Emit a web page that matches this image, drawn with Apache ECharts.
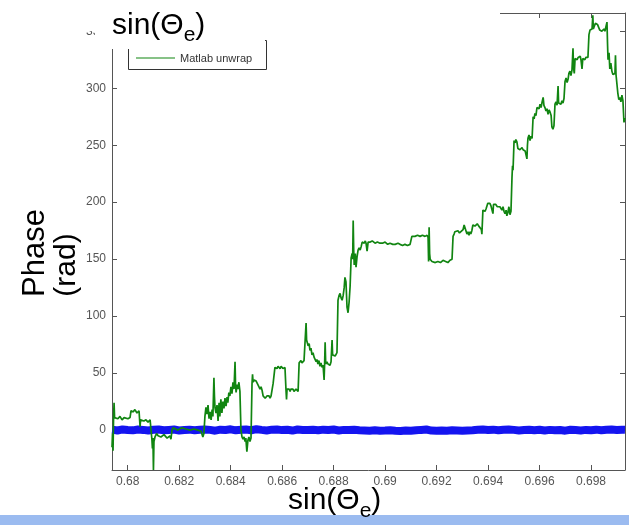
<!DOCTYPE html>
<html>
<head>
<meta charset="utf-8">
<script src="https://cdn.jsdelivr.net/npm/echarts@6/dist/echarts.min.js"></script>
<style>
html,body{margin:0;padding:0;background:#fff;}
#chart{width:629px;height:525px;}
</style>
</head>
<body>
<div id="chart"></div>
<script>
// ---- data ----
const xTickValues = [0.68, 0.682, 0.684, 0.686, 0.688, 0.69, 0.692, 0.694, 0.696, 0.698];
const yTickValues = [0, 50, 100, 150, 200, 250, 300, 350];
const legendNames = ['Matlab unwrap'];

// green: Matlab unwrap phase [sin(theta_e), phase]
const unwrapPoints = [
[0.67939,-15],[0.67941,-3],[0.67943,-18],[0.67945,10],[0.67947,24],[0.67949,11],[0.67955,12],[0.67962,10],[0.67970,12],[0.67978,9],[0.67986,11],[0.67993,12],[0.68001,10],[0.68009,11],[0.68013,12],[0.68013,17],[0.68021,16],[0.68028,18],[0.68036,15],[0.68044,17],[0.68048,16],[0.68048,3],[0.68050,9],[0.68056,10],[0.68063,8],[0.68071,9],[0.68079,7],[0.68087,9],[0.68092,8],[0.68094,-8],[0.68096,-16],[0.68098,-7],[0.68100,-35],[0.68102,-10],[0.68106,-6],[0.68112,-3],[0.68118,-5],[0.68129,-6],[0.68141,-4],[0.68153,-7],[0.68164,-5],[0.68168,-8],[0.68172,0],[0.68176,2],[0.68180,1],[0.68195,0],[0.68211,2],[0.68226,1],[0.68242,0],[0.68257,1],[0.68273,0],[0.68285,-1],[0.68292,-6],[0.68296,-3],
[0.68300,12],[0.68304,20],[0.68308,14],[0.68312,22],[0.68316,10],[0.68320,16],[0.68324,9],[0.68328,18],[0.68331,12],[0.68335,46],[0.68337,30],[0.68339,20],[0.68343,15],[0.68347,22],[0.68351,8],[0.68355,24],[0.68358,12],[0.68362,27],[0.68366,15],[0.68370,25],[0.68374,19],[0.68378,28],[0.68382,21],[0.68386,29],[0.68389,24],[0.68393,33],[0.68397,30],[0.68401,38],[0.68405,32],[0.68409,42],[0.68413,36],[0.68417,60],[0.68419,40],[0.68421,33],[0.68425,40],[0.68428,36],[0.68432,42],[0.68436,34],
[0.68440,0],[0.68444,-6],[0.68448,-8],[0.68452,-6],[0.68456,-10],[0.68459,-7],[0.68463,-19],[0.68467,-9],[0.68471,-6],[0.68475,-10],[0.68479,-7],[0.68483,41],[0.68485,49],[0.68487,42],[0.68491,44],[0.68495,45],[0.68499,43],[0.68502,44],[0.68506,42],[0.68510,38],[0.68514,36],[0.68518,38],[0.68522,35],[0.68526,30],[0.68530,29],[0.68534,28],[0.68538,29],[0.68541,30],[0.68545,29],[0.68549,30],[0.68553,28],[0.68557,30],[0.68561,29],[0.68565,41],[0.68568,42],[0.68572,55],[0.68576,56],[0.68580,54],[0.68584,56],[0.68588,55],[0.68592,54],[0.68596,56],[0.68600,55],[0.68603,54],[0.68607,55],[0.68611,55],[0.68615,35],[0.68617,27],[0.68619,36],[0.68623,35],[0.68627,36],[0.68631,34],[0.68634,36],[0.68638,35],[0.68642,36],[0.68646,34],[0.68650,35],[0.68654,36],[0.68658,35],[0.68662,34],[0.68666,59],[0.68669,60],[0.68673,61],[0.68677,59],[0.68681,60],[0.68685,61],[0.68689,60],
[0.68693,94],[0.68695,79],[0.68697,78],[0.68701,74],[0.68705,76],[0.68708,70],[0.68712,72],[0.68716,66],[0.68720,68],[0.68724,64],[0.68728,62],[0.68732,60],[0.68735,62],[0.68739,58],[0.68743,61],[0.68747,56],[0.68751,59],[0.68755,55],[0.68759,57],[0.68763,44],[0.68765,58],[0.68767,77],[0.68769,60],[0.68771,58],[0.68774,60],[0.68778,58],[0.68782,59],[0.68786,57],[0.68790,60],[0.68794,79],[0.68796,66],[0.68798,65],[0.68802,67],[0.68806,65],[0.68810,66],[0.68813,68],
[0.68817,114],[0.68821,118],[0.68825,120],[0.68829,116],[0.68833,114],[0.68837,118],[0.68841,125],[0.68844,134],[0.68848,130],[0.68852,108],[0.68856,103],[0.68860,112],[0.68864,126],[0.68868,151],[0.68872,155],[0.68874,150],[0.68876,184],[0.68878,158],[0.68880,145],[0.68884,155],[0.68887,143],[0.68891,152],[0.68895,158],[0.68899,160],[0.68903,158],[0.68907,161],[0.68911,165],[0.68915,165],[0.68919,164],[0.68923,166],[0.68926,164],[0.68930,157],[0.68934,165],[0.68942,165],[0.68950,166],[0.68961,164],[0.68970,165],[0.68980,164],[0.68990,164],[0.69000,165],[0.69010,163],[0.69019,164],[0.69030,163],[0.69039,163],[0.69050,164],[0.69058,163],[0.69068,162],[0.69077,163],[0.69087,162],[0.69097,163],[0.69102,162],
[0.69104,170],[0.69110,171],[0.69116,170],[0.69126,171],[0.69136,170],[0.69145,171],[0.69155,170],[0.69163,171],[0.69167,169],[0.69169,148],[0.69171,178],[0.69173,155],[0.69175,150],[0.69178,149],[0.69182,148],[0.69186,149],[0.69195,147],[0.69205,148],[0.69215,147],[0.69225,149],[0.69235,148],[0.69244,147],[0.69252,149],[0.69260,150],
[0.69264,170],[0.69268,172],[0.69271,174],[0.69277,173],[0.69283,175],[0.69289,173],[0.69295,174],[0.69303,176],[0.69307,180],[0.69310,181],[0.69314,179],[0.69318,172],[0.69322,174],[0.69326,171],[0.69330,174],[0.69333,172],[0.69337,175],[0.69341,180],[0.69345,181],[0.69349,179],[0.69353,180],[0.69358,181],[0.69364,179],[0.69370,180],[0.69374,176],[0.69376,172],[0.69380,193],[0.69384,194],[0.69388,192],[0.69392,194],[0.69396,193],[0.69399,199],[0.69403,198],[0.69407,199],[0.69411,197],[0.69415,198],[0.69419,190],[0.69421,198],[0.69425,197],[0.69430,198],[0.69436,196],[0.69441,197],[0.69446,196],[0.69450,197],[0.69454,193],[0.69458,196],[0.69462,192],[0.69466,190],[0.69470,193],[0.69473,188],[0.69477,191],[0.69481,196],[0.69485,189],[0.69489,192],
[0.69493,222],[0.69495,232],[0.69497,228],[0.69501,254],[0.69505,252],[0.69508,255],[0.69512,253],[0.69516,247],[0.69520,248],[0.69524,246],[0.69528,247],[0.69532,248],[0.69536,246],[0.69540,247],[0.69544,245],[0.69548,246],[0.69551,238],[0.69553,250],[0.69555,256],[0.69559,259],[0.69563,254],[0.69567,258],[0.69571,256],[0.69575,275],[0.69579,273],[0.69582,278],[0.69586,276],[0.69590,283],
[0.69594,284],[0.69598,282],[0.69602,286],[0.69606,283],[0.69610,288],[0.69614,292],[0.69617,285],[0.69621,283],[0.69625,280],[0.69629,282],[0.69633,277],[0.69637,281],[0.69641,279],[0.69645,276],[0.69648,266],[0.69652,264],[0.69656,267],[0.69660,286],[0.69664,288],[0.69668,285],[0.69672,302],[0.69674,287],[0.69678,288],[0.69683,286],[0.69687,289],[0.69691,287],[0.69695,291],[0.69699,306],[0.69703,309],[0.69707,305],[0.69711,308],[0.69714,313],[0.69718,315],[0.69722,311],[0.69726,316],[0.69730,335],[0.69732,318],[0.69735,313],[0.69738,326],[0.69742,327],[0.69746,325],[0.69750,327],[0.69754,326],[0.69758,328],[0.69761,325],[0.69765,317],[0.69768,326],[0.69772,327],[0.69776,325],[0.69780,327],[0.69784,326],[0.69788,327],
[0.69792,347],[0.69796,351],[0.69800,350],[0.69804,352],[0.69807,364],[0.69809,352],[0.69813,351],[0.69817,357],[0.69821,358],[0.69825,356],[0.69829,357],[0.69834,351],[0.69838,352],[0.69842,350],[0.69846,351],[0.69850,352],[0.69854,350],[0.69858,351],[0.69862,358],[0.69864,340],[0.69866,325],[0.69870,331],[0.69873,317],[0.69877,322],[0.69881,315],[0.69885,312],[0.69889,311],[0.69893,313],[0.69895,329],[0.69897,312],[0.69900,311],[0.69904,296],[0.69908,290],[0.69912,292],[0.69916,288],[0.69920,294],[0.69924,289],[0.69928,270],[0.69932,274]
];

// blue: the other phase estimate, a band around zero
const bandX = [
0.6794,0.6796,0.6798,0.6800,0.6802,0.6804,0.6806,0.6808,0.6810,0.6812,0.6814,0.6816,0.6818,0.6820,0.6822,0.6824,0.6826,0.6828,0.6830,
0.6832,0.6834,0.6836,0.6838,0.6840,0.6842,0.6844,0.6846,0.6848,0.6850,0.6852,0.6854,0.6856,0.6858,0.6860,0.6862,0.6864,0.6866,0.6868,0.6870,
0.6872,0.6874,0.6876,0.6878,0.6880,0.6882,0.6884,0.6886,0.6888,0.6890,
0.6892,0.6894,0.6896,0.6898,0.6900,0.6902,0.6904,0.6906,0.6908,0.6910,0.6912,0.6914,0.6916,0.6918,0.6920,0.6922,0.6924,0.6926,0.6928,0.6930,0.6932,0.6934,
0.6936,0.6938,0.6940,0.6942,0.6944,0.6946,0.6948,0.6950,0.6952,0.6954,0.6956,0.6958,0.6960,0.6962,0.6964,0.6966,0.6968,0.6970,0.6972,0.6974,0.6976,0.6978,0.6980,0.6982,0.6984,0.6986,0.6988,0.6990,0.6992,0.69932
];
const bandY = [
0.4,-0.3,0.6,0.1,-0.2,0.5,0.2,-0.4,0.3,0.6,-0.1,0.2,0.5,-0.3,0.1,0.4,-0.2,0.3,0.6,
0.2,-0.5,0.4,0.1,0.7,-0.2,0.3,0.5,-0.1,0.8,0.2,-0.3,0.4,0.6,0.0,0.3,-0.4,0.5,0.2,0.1,
0.3,-0.2,0.4,0.1,0.5,-0.3,0.2,0.0,0.3,-0.1,
-0.3,-0.5,-0.2,-0.6,-0.4,-0.1,-0.5,-0.7,-0.3,-0.6,-0.2,0.2,0.5,-0.4,-0.6,-0.3,-0.5,-0.2,-0.4,-0.6,-0.3,-0.1,
0.3,0.5,0.1,0.4,-0.2,0.3,0.6,0.2,-0.3,0.1,0.4,-0.1,0.3,-0.4,0.2,-0.2,0.1,-0.5,0.3,0.0,-0.3,0.2,-0.1,0.4,-0.2,0.3,0.5,0.1,0.4,0.3
];

const X_MIN = 0.67939, X_MAX = 0.69932, Y_MIN = -35, Y_MAX = 366;
const FONT = "'Liberation Sans', Arial, sans-serif";
const GREEN = '#118511';

const chart = echarts.init(document.getElementById('chart'), null, {renderer: 'canvas'});
const bandPoints = bandX.map((x, i) => [x, bandY[i]]);

const axisColor = '#555';
const tickLen = 5;

chart.setOption({
  animation: false,
  backgroundColor: '#fff',
  grid: {left: 112, right: 4, top: 13, bottom: 55, containLabel: false},
  xAxis: [{
    type: 'value', min: X_MIN, max: X_MAX, position: 'bottom',
    axisLine: {show: true, onZero: false, lineStyle: {color: axisColor, width: 1}},
    axisTick: {show: true, inside: true, length: tickLen, customValues: xTickValues, lineStyle: {color: axisColor}},
    axisLabel: {show: true, customValues: xTickValues, margin: 6, fontSize: 12, color: '#555', fontFamily: FONT,
      formatter: v => String(+v.toFixed(3))},
    splitLine: {show: false}
  }, {
    type: 'value', min: X_MIN, max: X_MAX, position: 'top',
    axisLine: {show: true, onZero: false, lineStyle: {color: axisColor, width: 1}},
    axisTick: {show: true, inside: true, length: tickLen, customValues: xTickValues, lineStyle: {color: axisColor}},
    axisLabel: {show: false},
    splitLine: {show: false}
  }],
  yAxis: [{
    type: 'value', min: Y_MIN, max: Y_MAX, position: 'left',
    axisLine: {show: true, onZero: false, lineStyle: {color: axisColor, width: 1}},
    axisTick: {show: true, inside: true, length: tickLen, customValues: yTickValues, lineStyle: {color: axisColor}},
    axisLabel: {show: true, customValues: yTickValues, margin: 6, fontSize: 12, color: '#555', fontFamily: FONT},
    splitLine: {show: false}
  }, {
    type: 'value', min: Y_MIN, max: Y_MAX, position: 'right',
    axisLine: {show: true, onZero: false, lineStyle: {color: axisColor, width: 1}},
    axisTick: {show: true, inside: true, length: tickLen, customValues: yTickValues, lineStyle: {color: axisColor}},
    axisLabel: {show: false},
    splitLine: {show: false}
  }],
  series: [{
    name: 'Phase estimate',
    type: 'line', xAxisIndex: 0, yAxisIndex: 0,
    data: bandPoints, symbol: 'none', showSymbol: false,
    lineStyle: {color: '#1414f0', width: 8},
    z: 2, silent: true
  }, {
    name: legendNames[0],
    type: 'line', xAxisIndex: 0, yAxisIndex: 0,
    data: unwrapPoints, symbol: 'none', showSymbol: false,
    lineStyle: {color: GREEN, width: 1.7},
    z: 3, silent: true
  }],
  graphic: [
    // legend box (Matlab style)
    {type: 'rect', z: 50, shape: {x: 128.5, y: 40.5, width: 138, height: 29}, style: {fill: '#fff', stroke: '#333', lineWidth: 1}},
    {type: 'line', z: 51, shape: {x1: 136, y1: 58, x2: 175, y2: 58}, style: {stroke: GREEN, lineWidth: 1.2}},
    {type: 'text', z: 51, x: 180, y: 59, style: {text: legendNames[0], fill: '#333', font: "11px " + FONT, verticalAlign: 'middle'}},
    // slide overlays
    {type: 'rect', z: 100, shape: {x: 0, y: 0, width: 500, height: 31}, style: {fill: '#fff'}},
    {type: 'rect', z: 100, shape: {x: 95, y: 0, width: 170, height: 49}, style: {fill: '#fff'}},
    {type: 'rect', z: 100, shape: {x: 0, y: 515, width: 629, height: 10}, style: {fill: '#9bbbf0'}},
    {type: 'text', z: 101, x: 112, y: 5, style: {
      text: '{m|sin(Θ}{s|e}{m|)}', fill: '#000', verticalAlign: 'top',
      rich: {m: {fontSize: 30, fontFamily: FONT, fill: '#000'}, s: {fontSize: 21, fontFamily: FONT, fill: '#000', padding: [20, 0, 0, 0]}}
    }},
    {type: 'text', z: 101, x: 288, y: 479, style: {
      text: '{m|sin(Θ}{s|e}{m|)}', fill: '#000', verticalAlign: 'top',
      rich: {m: {fontSize: 30, fontFamily: FONT, fill: '#000'}, s: {fontSize: 21, fontFamily: FONT, fill: '#000', padding: [22, 0, 0, 0]}}
    }},
    {type: 'text', z: 101, x: 35, y: 253, rotation: Math.PI / 2, style: {
      text: 'Phase', fill: '#000', font: "31px " + FONT, align: 'center', verticalAlign: 'middle'
    }},
    {type: 'text', z: 101, x: 67, y: 265, rotation: Math.PI / 2, style: {
      text: '(rad)', fill: '#000', font: "30px " + FONT, align: 'center', verticalAlign: 'middle'
    }}
  ]
});
</script>
</body>
</html>
